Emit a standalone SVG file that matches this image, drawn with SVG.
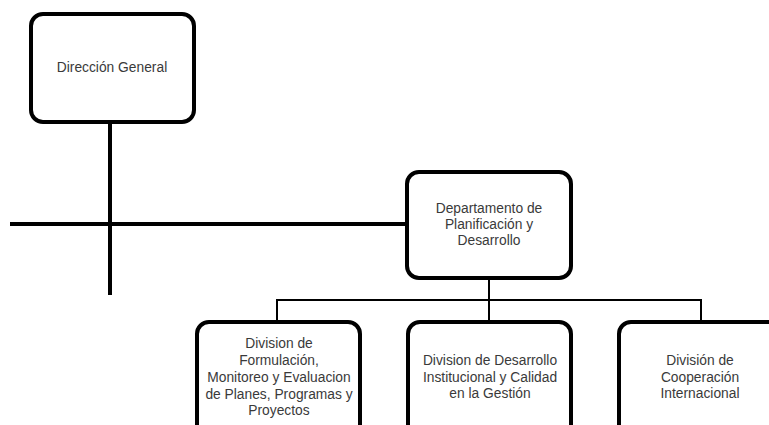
<svg xmlns="http://www.w3.org/2000/svg" width="769" height="425" viewBox="0 0 769 425">
<style>
.box{fill:#fff;stroke:#000;stroke-width:4}
.thick{stroke:#000;stroke-width:4;fill:none}
.thin{stroke:#000;stroke-width:2;fill:none}
text{font-family:"Liberation Sans",Arial,sans-serif;font-size:13.8px;fill:#3a3a3a;text-anchor:middle}
</style>
<rect width="769" height="425" fill="#fff"/>
<g id="connectors">
<path class="thick" d="M110 122 V295"/>
<path class="thick" d="M10 224 H407"/>
<path class="thin" d="M489 278 V300"/>
<path class="thin" d="M277 322 V300 H701 V322"/>
<path class="thin" d="M489 300 V322"/>
</g>
<g id="direccion">
<rect class="box" x="31" y="14" width="163" height="108" rx="12"/>
<text x="112" y="72">Dirección General</text>
</g>
<g id="departamento">
<rect class="box" x="407" y="172" width="164" height="106" rx="12"/>
<text x="489" y="213">Departamento de</text>
<text x="489" y="229">Planificación y</text>
<text x="489" y="245">Desarrollo</text>
</g>
<g id="div-formulacion">
<rect class="box" x="197" y="322" width="163" height="120" rx="12"/>
<text x="279" y="348">Division de</text>
<text x="279" y="365">Formulación,</text>
<text x="279" y="382">Monitoreo y Evaluacion</text>
<text x="279" y="399">de Planes, Programas y</text>
<text x="279" y="415">Proyectos</text>
</g>
<g id="div-desarrollo">
<rect class="box" x="408" y="322" width="163" height="120" rx="12"/>
<text x="490" y="365">Division de Desarrollo</text>
<text x="490" y="382">Institucional y Calidad</text>
<text x="490" y="398">en la Gestión</text>
</g>
<g id="div-cooperacion">
<rect class="box" x="619" y="322" width="163" height="120" rx="12"/>
<text x="700" y="365">División de</text>
<text x="700" y="382">Cooperación</text>
<text x="700" y="398">Internacional</text>
</g>
</svg>
